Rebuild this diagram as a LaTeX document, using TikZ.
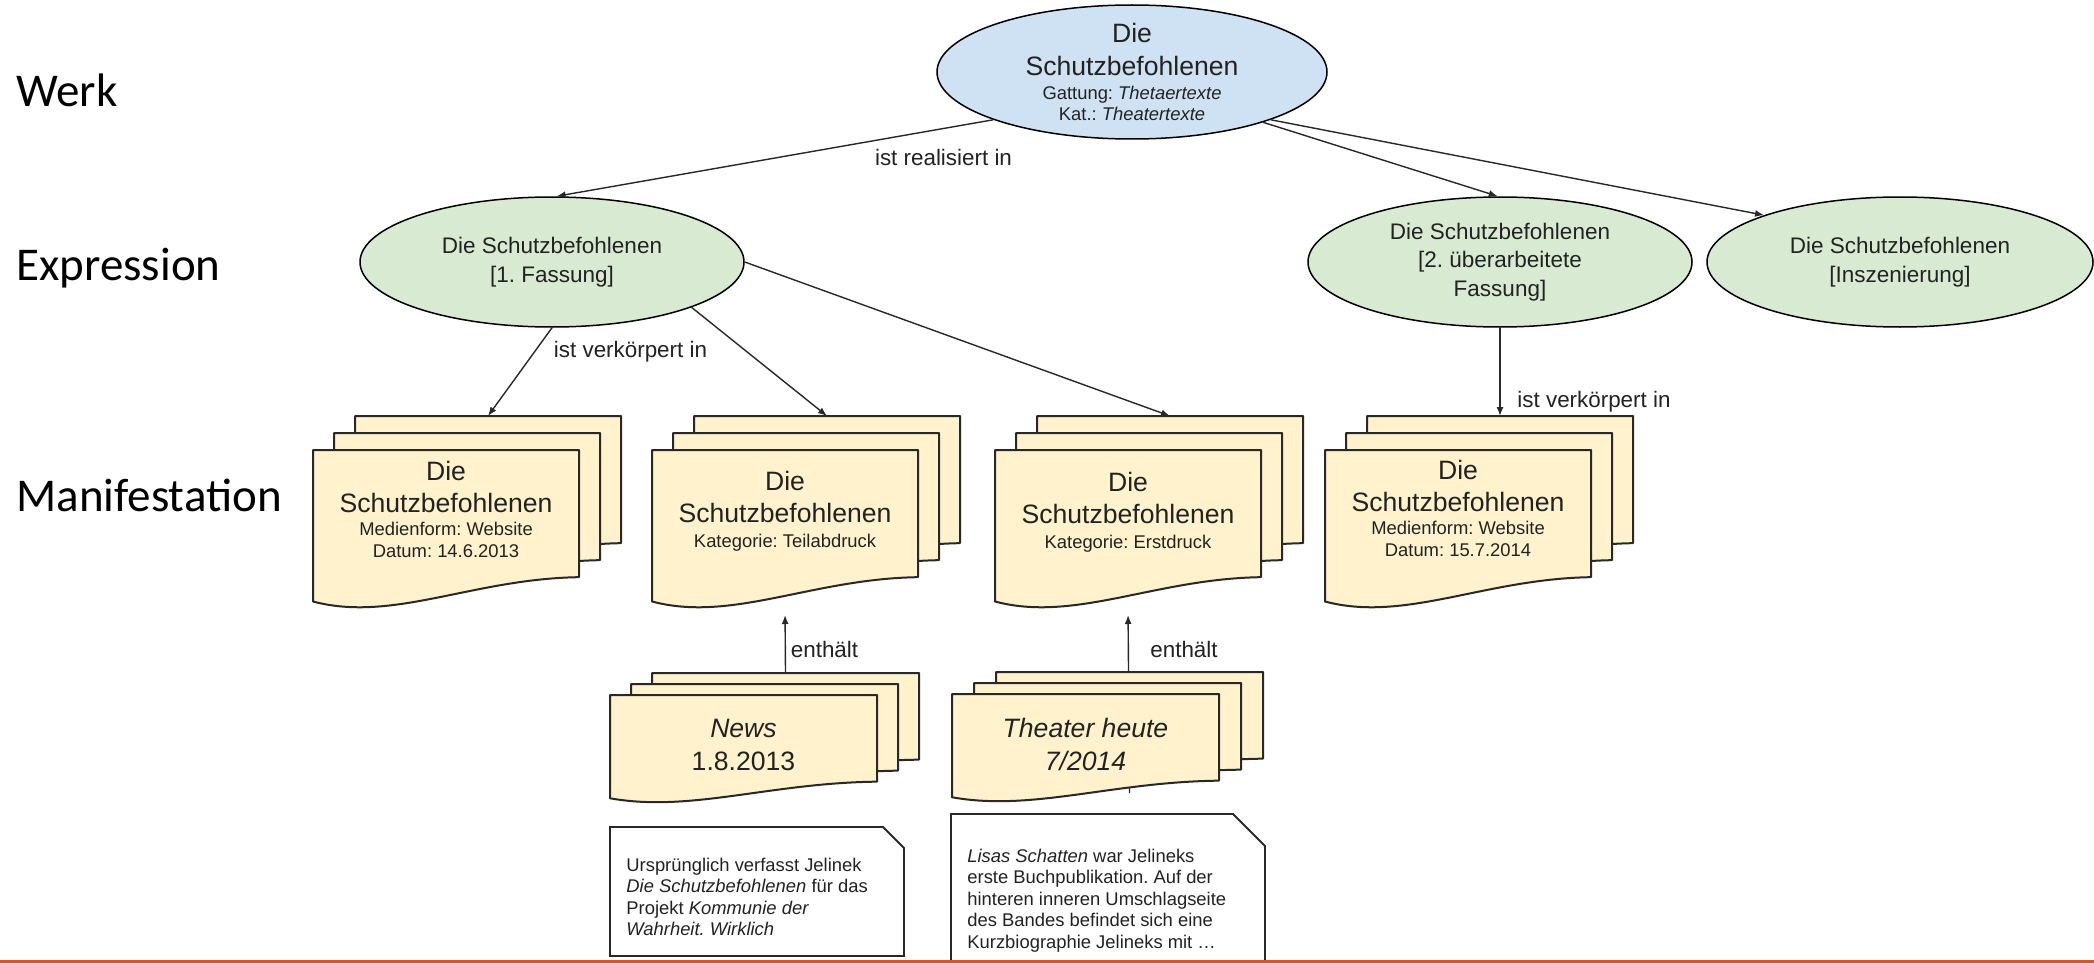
\documentclass[tikz,border=0pt]{standalone}
\usepackage{fontspec}
\setmainfont{Liberation Sans}
\newfontfamily\levelfont{Carlito}
\usetikzlibrary{arrows.meta,calc,shapes.geometric}
\frenchspacing
\definecolor{werkfill}{RGB}{207,226,243}
\definecolor{expfill}{RGB}{217,234,211}
\definecolor{docfill}{RGB}{255,242,204}
\definecolor{txt}{RGB}{34,34,34}
\definecolor{edgecol}{RGB}{40,40,40}
\definecolor{orangeline}{RGB}{218,84,32}
\newcommand\smallf{\fontsize{9.2}{11}\selectfont}
\newcommand\sheetoutline[1]{%
  \path[docpath] let \p1=(#1.north west), \p2=(#1.south east) in
    (\x1,\y1) -- (\x2,\y1) -- (\x2,{\y1+0.81*(\y2-\y1)})
    .. controls ({\x1+0.6*(\x2-\x1)},{\y1+0.82*(\y2-\y1)}) and ({\x1+0.3*(\x2-\x1)},{\y1+1.10*(\y2-\y1)}) ..
    (\x1,{\y1+0.965*(\y2-\y1)}) -- cycle;}
\begin{document}
\frenchspacing
\begin{tikzpicture}[x=0.5pt,y=-0.5pt,
  werkell/.style={ellipse, draw=black, line width=0.75pt, fill=werkfill, minimum width=195pt, minimum height=67pt, inner sep=-3pt, align=center, text=txt},
  expell/.style={ellipse, draw=black, line width=0.75pt, fill=expfill, minimum height=65pt, inner sep=0pt, align=center, text=txt, font=\fontsize{11.25}{14.25}\selectfont},
  sheetbox/.style={rectangle, draw=none, inner sep=0pt, outer sep=0pt, anchor=north west},
  bigsheet/.style={sheetbox, minimum width=133pt, minimum height=78.5pt},
  smallsheet/.style={sheetbox, minimum width=133.5pt, minimum height=53.5pt},
  docpath/.style={draw=edgecol, line width=1pt, fill=docfill, line join=round},
  doctext/.style={anchor=north, inner sep=0pt, align=center, text=txt, font=\fontsize{13.3}{16}\selectfont},
  conn/.style={draw=edgecol, line width=0.7pt, -{Latex[length=4.5pt,width=3.5pt]}},
  rellabel/.style={anchor=base, inner sep=0pt, text=txt, font=\fontsize{11.2}{13}\selectfont},
  notebox/.style={draw=edgecol, line width=0.9pt, fill=white},
  notetext/.style={anchor=north west, inner sep=0pt, align=left, text=txt, font=\fontsize{9.2}{10.75}\selectfont},
  levellabel/.style={anchor=base west, inner sep=0pt, text=black, font=\levelfont\fontsize{23.5}{28}\selectfont}
]
\useasboundingbox (0,0) rectangle (2094,963);
\fill[white] (0,0) rectangle (2094,963);

% level labels
\node[levellabel] (lwerk) at (16,107) {Werk};
\node[levellabel] (lexp) at (16,280) {Expression};
\node[levellabel] (lman) at (16,511) {Manifestation};

% Werk and expressions
\node[werkell, font=\fontsize{13.3}{16.5}\selectfont] (werk) at (1132,72)
  {Die\\Schutzbefohlenen\\[-4.5pt]{\smallf Gattung: \textit{Thetaertexte}}\\[-6pt]{\smallf Kat.: \textit{Theatertexte}}};
\node[expell, minimum width=192pt] (exp1) at (552,262) {Die Schutzbefohlenen\\{[1. Fassung]}};
\node[expell, minimum width=192pt] (exp2) at (1500,262) {Die Schutzbefohlenen\\{[2. überarbeitete}\\Fassung]};
\node[expell, minimum width=193pt] (exp3) at (1900,262) {Die Schutzbefohlenen\\{[Inszenierung]}};

% sheet boxes (manifestations)
\node[bigsheet] (s1back) at (355,416) {};
\node[bigsheet] (s1mid) at (334,433) {};
\node[bigsheet] (s1front) at (313,450) {};
\node[bigsheet] (s2back) at (694,416) {};
\node[bigsheet] (s2mid) at (673,433) {};
\node[bigsheet] (s2front) at (652,450) {};
\node[bigsheet] (s3back) at (1037,416) {};
\node[bigsheet] (s3mid) at (1016,433) {};
\node[bigsheet] (s3front) at (995,450) {};
\node[bigsheet] (s4back) at (1367,416) {};
\node[bigsheet] (s4mid) at (1346,433) {};
\node[bigsheet] (s4front) at (1325,450) {};
\node[smallsheet] (nwback) at (652,673) {};
\node[smallsheet] (nwmid) at (631,684) {};
\node[smallsheet] (nwfront) at (610,695) {};
\node[smallsheet] (thback) at (996,672) {};
\node[smallsheet] (thmid) at (974,683) {};
\node[smallsheet] (thfront) at (952,694) {};
\coordinate (thstub) at (1129.5,793);

% "enthaelt" connectors (behind the sheets)
\draw[conn, shorten >=4pt] (nwback.north) -- (s2front.south);
\draw[conn, shorten >=4pt] (thstub) -- (s3front.south);

% sheet outlines
\foreach \s in {s1back,s1mid,s1front,s2back,s2mid,s2front,s3back,s3mid,s3front,s4back,s4mid,s4front,nwback,nwmid,nwfront,thback,thmid,thfront}
  {\sheetoutline{\s}}

% sheet texts
\node[doctext] (s1text) at (446,460.6) {Die\\Schutzbefohlenen\\[-4.5pt]{\smallf Medienform: Website}\\[-5pt]{\smallf Datum: 14.6.2013}};
\node[doctext] (s2text) at (785,470.6) {Die\\Schutzbefohlenen\\[-3.5pt]{\smallf Kategorie: Teilabdruck}};
\node[doctext] (s3text) at (1128,471.6) {Die\\Schutzbefohlenen\\[-3.5pt]{\smallf Kategorie: Erstdruck}};
\node[doctext] (s4text) at (1458,459.6) {Die\\Schutzbefohlenen\\[-4.5pt]{\smallf Medienform: Website}\\[-5pt]{\smallf Datum: 15.7.2014}};
\node[doctext, font=\fontsize{13.3}{16.5}\selectfont] (nwtext) at (743.5,718.6) {\textit{News}\\1.8.2013};
\node[doctext, font=\fontsize{13.3}{16.5}\selectfont] (thtext) at (1085.5,717.6) {\textit{Theater heute}\\\textit{7/2014}};

% connectors
\draw[conn] (werk.199) -- (exp1.86);
\draw[conn] (werk.-21.5) -- (exp2.92.6);
\draw[conn] (werk.-19.3) -- (exp3.161.4);
\draw[conn] (exp1.south) -- (s1back.north);
\draw[conn] (exp1.-18.2) -- (s2back.north);
\draw[conn] (exp1.east) -- (s3back.north);
\draw[conn] (exp2.south) -- (s4back.north);

% relation labels
\node[rellabel] (lreal) at (943.5,165) {ist realisiert in};
\node[rellabel] (lverk1) at (630.5,357) {ist verkörpert in};
\node[rellabel] (lverk2) at (1594,407) {ist verkörpert in};
\node[rellabel] (lenth1) at (824.5,657) {enthält};
\node[rellabel] (lenth2) at (1184,657) {enthält};

% notes
\path[notebox] (610,827) -- (883,827) -- (904,848) -- (904,956) -- (610,956) -- cycle;
\path[notebox] (951,990) -- (951,814) -- (1233,814) -- (1265,846) -- (1265,990);
\node[notetext] (note1) at (626,857.6) {Ursprünglich verfasst Jelinek\\\textit{Die Schutzbefohlenen} für das\\Projekt \textit{Kommunie der}\\\textit{Wahrheit. Wirklich}};
\node[notetext] (note2) at (967,848.6) {\textit{Lisas Schatten} war Jelineks\\erste Buchpublikation. Auf der\\hinteren inneren Umschlagseite\\des Bandes befindet sich eine\\Kurzbiographie Jelineks mit …};

% bottom rule
\draw[orangeline, line width=1.5pt] (0,961) -- (2094,961);
\end{tikzpicture}
\end{document}
